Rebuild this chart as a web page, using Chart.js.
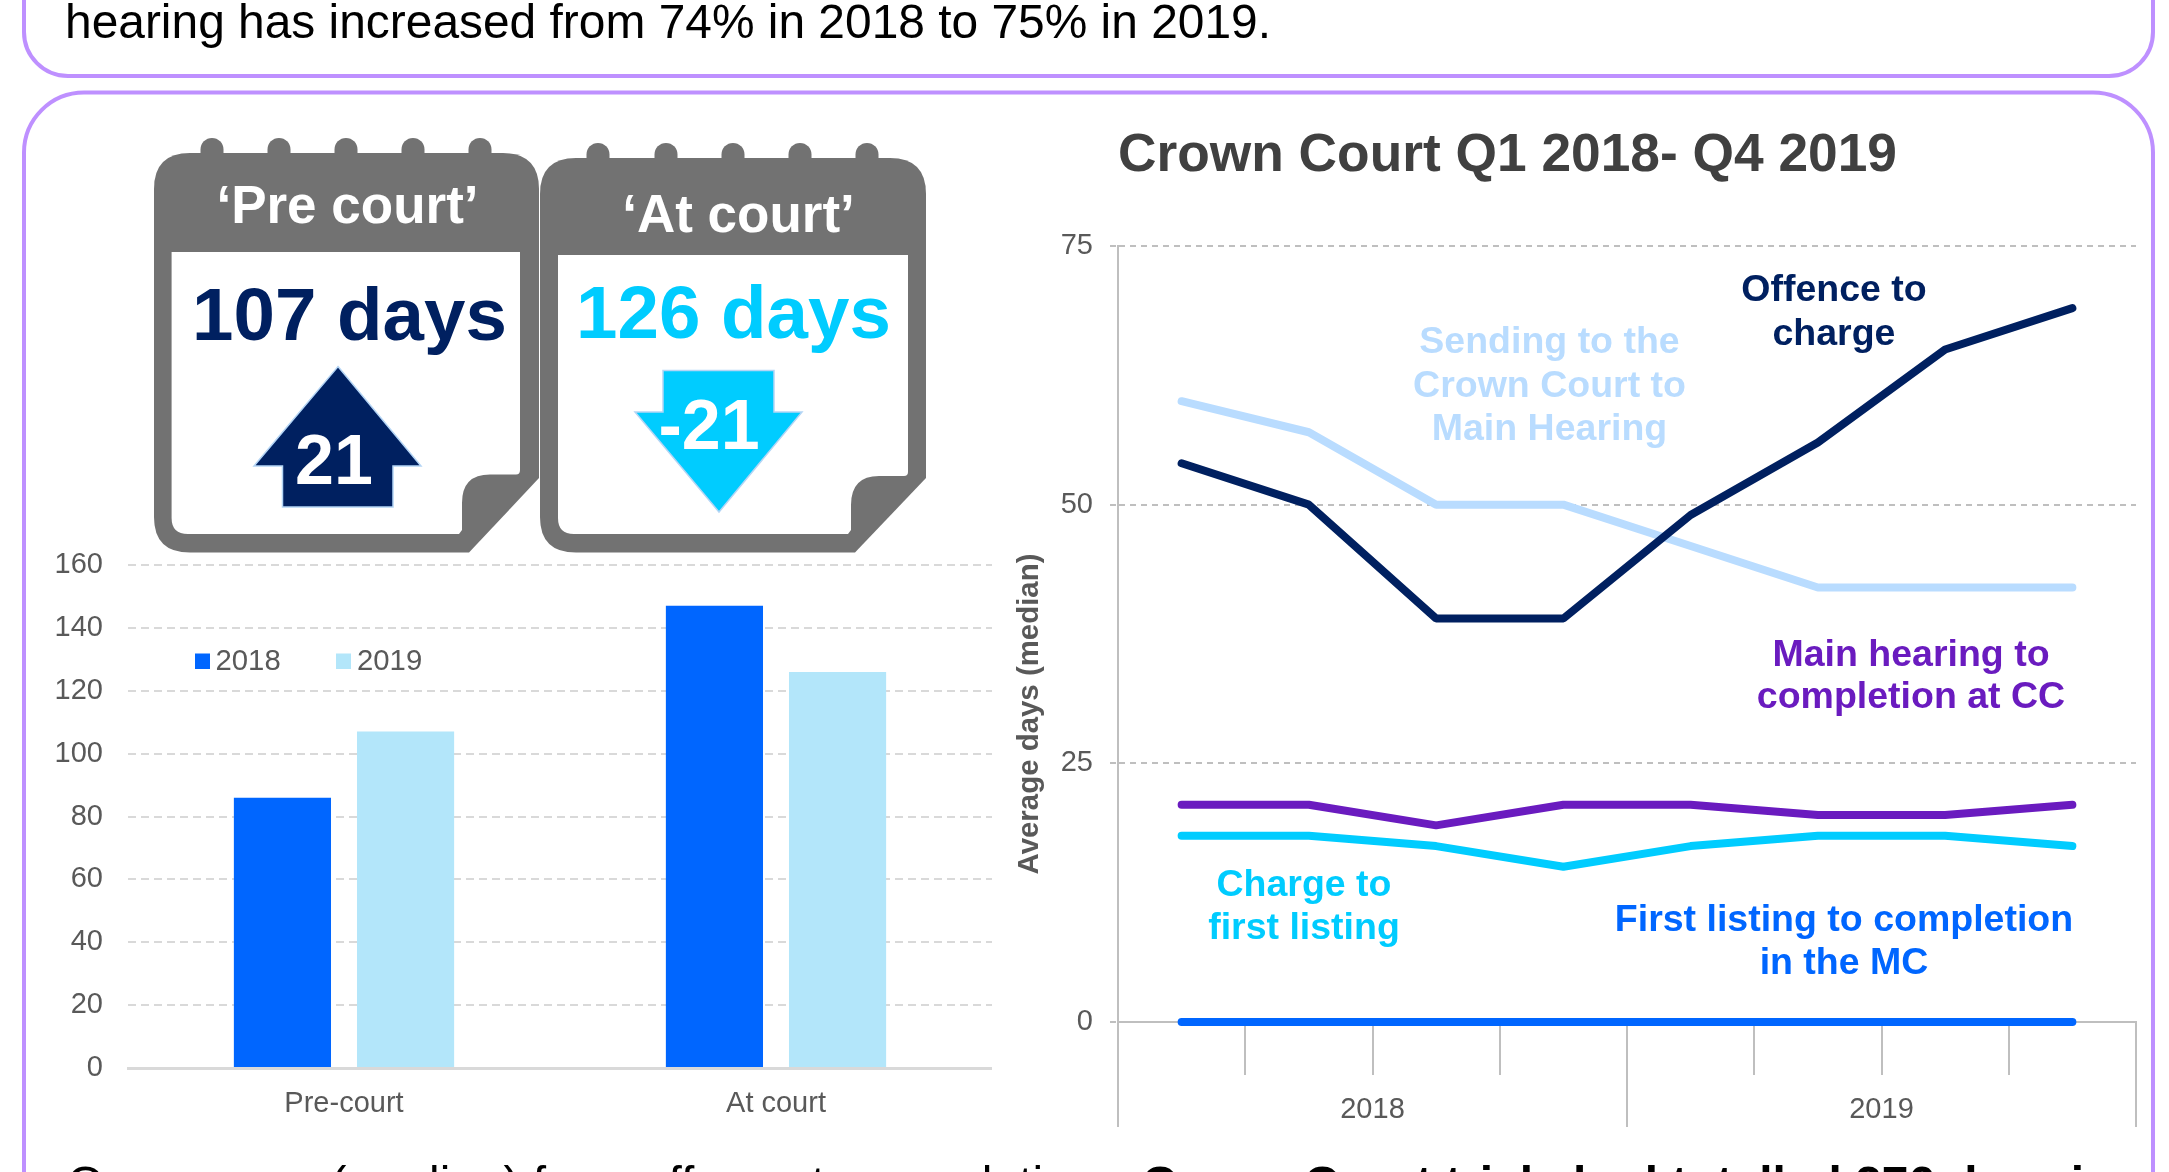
<!DOCTYPE html>
<html><head><meta charset="utf-8">
<script src="https://cdn.jsdelivr.net/npm/chart.js@4"></script>
<style>
html,body{margin:0;padding:0;background:#fff;overflow:hidden;width:2169px;height:1172px;font-family:"Liberation Sans",Arial,sans-serif}
canvas{position:absolute;display:block}
#overlay{position:absolute;left:0;top:0;z-index:5}
#overlay text{font-family:"Liberation Sans",Arial,sans-serif}
.b{font-weight:700}
.ann{font-weight:700;font-size:37.500px;text-anchor:middle}
.big{font-weight:700;font-size:74.500px;text-anchor:middle}
.arr{font-weight:700;font-size:70px;text-anchor:middle;fill:#fff}
.head{font-weight:700;font-size:53px;text-anchor:middle;fill:#fff}
.leg{font-size:29.300px;fill:#595959}
</style></head>
<body>
<canvas id="bars" width="952" height="580" style="left:40px;top:540px"></canvas>
<canvas id="lines" width="1138" height="927" style="left:1000px;top:200px"></canvas>
<svg id="overlay" width="2169" height="1172" viewBox="0 0 2169 1172">
  <rect x="24" y="-80" width="2129" height="156" rx="44" fill="none" stroke="#BE90FF" stroke-width="4"/>
  <rect x="24" y="92.500" width="2129" height="1200" rx="60" fill="none" stroke="#BE90FF" stroke-width="4"/>
  <text x="65" y="37.500" font-size="47.900">hearing has increased from 74% in 2018 to 75% in 2019.</text>
  <text x="67" y="1200" font-size="47.900" xml:space="preserve">On average (median) from offence to completion, <tspan class="b" dx="19">Crown Court trials had totalled 276 days in</tspan></text>

  <g fill="#727272">
    <rect x="200.500" y="138" width="23" height="40" rx="11.500"/><rect x="267.500" y="138" width="23" height="40" rx="11.500"/><rect x="334.500" y="138" width="23" height="40" rx="11.500"/><rect x="401.500" y="138" width="23" height="40" rx="11.500"/><rect x="468.500" y="138" width="23" height="40" rx="11.500"/>
    <path d="M190,153 H503 Q539,153 539,189 V478 L469,552.600 H190 Q154,552.600 154,517 V189 Q154,153 190,153Z"/>
    <rect x="586.500" y="143" width="23" height="40" rx="11.500"/><rect x="654.500" y="143" width="23" height="40" rx="11.500"/><rect x="721.500" y="143" width="23" height="40" rx="11.500"/><rect x="788.500" y="143" width="23" height="40" rx="11.500"/><rect x="855.500" y="143" width="23" height="40" rx="11.500"/>
    <path d="M576,158 H890 Q926,158 926,194 V478 L855,552.600 H576 Q540,552.600 540,517 V194 Q540,158 576,158Z"/>
  </g>
  <path fill="#fff" d="M171.600,252 H520 V470 Q520,474.500 516,474.500 H490 Q462,474.500 462,503 V530 L459,534 H188 Q171.600,534 171.600,518Z"/>
  <path fill="#fff" d="M558,255 H908 V472 Q908,476 904,476 H879 Q851,476 851,505 V530 L848,534 H574 Q558,534 558,518Z"/>
  <text class="head" x="347.500" y="222.500">‘Pre court’</text>
  <text class="head" x="738.500" y="231.500">‘At court’</text>
  <text class="big" x="349.500" y="340" fill="#002060">107 days</text>
  <text class="big" x="733.500" y="337.500" fill="#00CCFF">126 days</text>
  <path d="M338,366.600 L421,466 H393 V507 H282.500 V466 H254Z" fill="#002060" stroke="#B4D5F5" stroke-width="1.500"/>
  <text class="arr" x="334" y="484">21</text>
  <path d="M663,370.500 H774 V412 H802 L719,512 L635,412 H663Z" fill="#00CCFF" stroke="#B4D5F5" stroke-width="1.500"/>
  <text class="arr" x="709" y="448.500">-21</text>

  <rect x="195" y="653.500" width="15" height="15.500" fill="#0066FF"/>
  <text class="leg" x="215.500" y="670">2018</text>
  <rect x="336" y="653.500" width="15" height="15.500" fill="#B3E6FA"/>
  <text class="leg" x="357" y="670">2019</text>

  <text class="b" x="1118" y="171" font-size="53.300" fill="#404040">Crown Court Q1 2018- Q4 2019</text>
  <text class="b" transform="translate(1038,714) rotate(-90)" text-anchor="middle" font-size="30" fill="#595959" textLength="321" lengthAdjust="spacingAndGlyphs">Average days (median)</text>
  <text class="ann" x="1834" y="300.500" fill="#002060">Offence to</text>
  <text class="ann" x="1834" y="344.500" fill="#002060">charge</text>
  <text class="ann" x="1549.500" y="352.500" fill="#B9DCFF">Sending to the</text>
  <text class="ann" x="1549.500" y="396.500" fill="#B9DCFF">Crown Court to</text>
  <text class="ann" x="1549.500" y="440" fill="#B9DCFF">Main Hearing</text>
  <text class="ann" x="1911" y="665.500" fill="#6A1BBF">Main hearing to</text>
  <text class="ann" x="1911" y="708" fill="#6A1BBF">completion at CC</text>
  <text class="ann" x="1304" y="896" fill="#00CCFF">Charge to</text>
  <text class="ann" x="1304" y="939" fill="#00CCFF">first listing</text>
  <text class="ann" x="1844" y="931" fill="#0066FF">First listing to completion</text>
  <text class="ann" x="1844" y="974" fill="#0066FF">in the MC</text>
</svg>
<script>
const barCategories = ['Pre-court', 'At court'];
const bars2018 = [86, 147];
const bars2019 = [107, 126];
const quarters = ['Q1 2018','Q2 2018','Q3 2018','Q4 2018','Q1 2019','Q2 2019','Q3 2019','Q4 2019'];
const years = ['2018', '2019'];
const offenceToCharge = [54, 50, 39, 39, 49, 56, 65, 69];
const sendingToMainHearing = [60, 57, 50, 50, 46, 42, 42, 42];
const mainHearingToCompletion = [21, 21, 19, 21, 21, 20, 20, 21];
const chargeToFirstListing = [18, 18, 17, 15, 17, 18, 18, 17];
const firstListingToCompletionMC = [0, 0, 0, 0, 0, 0, 0, 0];

Chart.defaults.font.family = '"Liberation Sans", Arial, sans-serif';
Chart.defaults.color = '#595959';
Chart.defaults.animation = false;
const fix = (prop, v) => s => { s[prop] = v; s.paddingTop = 0; s.paddingBottom = 0; };

new Chart(document.getElementById('bars'), {
  type: 'bar',
  data: { labels: barCategories, datasets: [
    { label: '2018', data: bars2018, backgroundColor: '#0066FF' },
    { label: '2019', data: bars2019, backgroundColor: '#B3E6FA' }
  ]},
  options: {
    responsive: false, devicePixelRatio: 1,
    layout: { padding: { top: 25, bottom: 0, left: 0, right: 0 } },
    categoryPercentage: 0.57, barPercentage: 0.789,
    plugins: { legend: { display: false }, tooltip: { enabled: false } },
    scales: {
      x: {
        afterFit: fix('height', 52),
        grid: { drawOnChartArea: false, drawTicks: false },
        border: { display: true, color: '#D9D9D9', width: 3 },
        ticks: { font: { size: 29 }, color: '#595959', padding: 19, maxRotation: 0 }
      },
      y: {
        min: 0, max: 160,
        afterFit: fix('width', 88),
        grid: { color: '#D9D9D9', lineWidth: 2, drawTicks: false },
        border: { display: false, dash: [8, 5] },
        ticks: { stepSize: 20, font: { size: 29 }, color: '#595959', padding: 25 }
      }
    }
  }
});

const lineSet = (label, data, color) => ({
  label, data, borderColor: color, backgroundColor: color, borderWidth: 8,
  pointRadius: 0, tension: 0, clip: false, borderCapStyle: 'round', borderJoinStyle: 'bevel'
});
new Chart(document.getElementById('lines'), {
  type: 'line',
  data: { labels: quarters, datasets: [
    lineSet('First listing to completion in the MC', firstListingToCompletionMC, '#0066FF'),
    lineSet('Charge to first listing', chargeToFirstListing, '#00CCFF'),
    lineSet('Main hearing to completion at CC', mainHearingToCompletion, '#6A1BBF'),
    lineSet('Offence to charge', offenceToCharge, '#002060'),
    lineSet('Sending to the Crown Court to Main Hearing', sendingToMainHearing, '#B9DCFF')
  ]},
  options: {
    responsive: false, devicePixelRatio: 1,
    layout: { padding: { top: 46, bottom: 0, left: 0, right: 2 } },
    plugins: { legend: { display: false }, tooltip: { enabled: false } },
    scales: {
      x: {
        weight: 0, offset: true, afterFit: fix('height', 53),
        grid: { offset: true, drawOnChartArea: false, tickLength: 53, color: '#BFBFBF', lineWidth: 2 },
        border: { color: '#BFBFBF', width: 2 },
        ticks: { display: false, autoSkip: false }
      },
      x2: {
        type: 'category', labels: years, position: 'bottom', weight: 1, offset: true,
        afterFit: fix('height', 52),
        grid: { offset: true, drawOnChartArea: false, tickLength: 52, color: '#BFBFBF', lineWidth: 2 },
        border: { display: false },
        ticks: { font: { size: 29 }, color: '#595959', padding: -34, autoSkip: false, maxRotation: 0 }
      },
      y: {
        min: 0, max: 75,
        afterFit: fix('width', 118),
        grid: { color: '#BFBFBF', lineWidth: 2, tickLength: 8, tickBorderDash: [6, 5], tickColor: '#BFBFBF' },
        border: { display: true, color: '#BFBFBF', width: 2, dash: [6, 5] },
        ticks: { stepSize: 25, font: { size: 29 }, color: '#595959', padding: 17 }
      }
    }
  }
});
</script>
</body></html>
